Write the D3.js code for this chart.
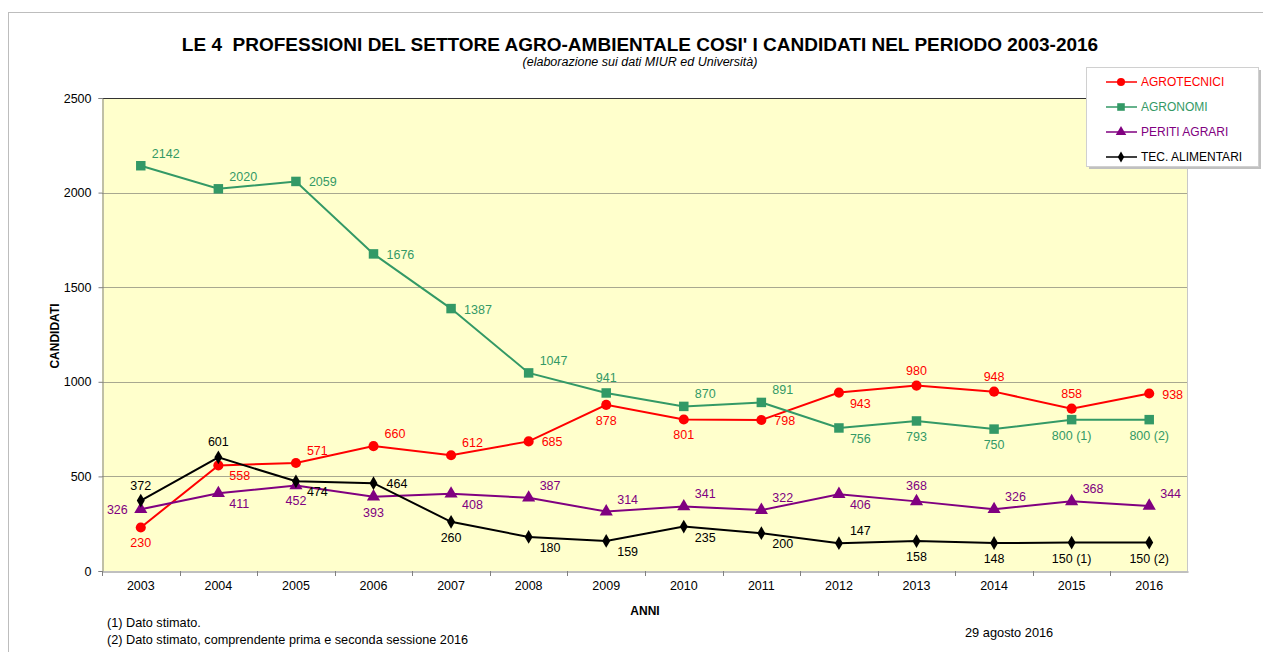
<!DOCTYPE html>
<html>
<head>
<meta charset="utf-8">
<script src="https://cdn.jsdelivr.net/npm/d3@7"></script>
<style>
  body { margin: 0; background: #fff; }
  text { font-family: "Liberation Sans", Arial, sans-serif; }
</style>
</head>
<body>
<script>
var W = 1263, H = 652;

// data
var anni = ['2003','2004','2005','2006','2007','2008','2009','2010','2011','2012','2013','2014','2015','2016'];
var agrotecnici = [230, 558, 571, 660, 612, 685, 878, 801, 798, 943, 980, 948, 858, 938];
var agronomi = [2142, 2020, 2059, 1676, 1387, 1047, 941, 870, 891, 756, 793, 750, 800, 800];
var peritiAgrari = [326, 411, 452, 393, 408, 387, 314, 341, 322, 406, 368, 326, 368, 344];
var tecAlimentari = [372, 601, 474, 464, 260, 180, 159, 235, 200, 147, 158, 148, 150, 150];
var note = ['', '', '', '', '', '', '', '', '', '', '', '', ' (1)', ' (2)'];
var noNote = anni.map(function(){ return ''; });
var yTicks = [0, 500, 1000, 1500, 2000, 2500];

// where each data label sits (a above, b below, r right, ra/rb right above/below, l left)
var posAgrotecnici = ['b','rb','ra','ra','ra','r','b','b','r','rb','a','a','a','r'];
var posAgronomi = ['ra','ra','r','r','r','ra','a','ra','ra','rb','b','b','b','b'];
var posPeriti = ['l','rb','b','b','rb','ra','ra','ra','ra','rb','a','ra','ra','ra'];
var posTec = ['a','a','rb','r','b','rb','rb','rb','rb','ra','b','b','b','b'];

var series = [
  {name: 'AGROTECNICI', values: agrotecnici, color: '#ff0000', marker: 'circle', pos: posAgrotecnici, notes: noNote},
  {name: 'AGRONOMI', values: agronomi, color: '#339966', marker: 'square', pos: posAgronomi, notes: note},
  {name: 'PERITI AGRARI', values: peritiAgrari, color: '#800080', marker: 'triangle', pos: posPeriti, notes: noNote},
  {name: 'TEC. ALIMENTARI', values: tecAlimentari, color: '#000000', marker: 'diamond', pos: posTec, notes: note}
];

var svg = d3.select('body').append('svg')
  .attr('width', W)
  .attr('height', H);

// outer frame
svg.append('rect')
  .attr('x', 8.5).attr('y', 12.5)
  .attr('width', W + 10).attr('height', H + 10)
  .attr('fill', 'none').attr('stroke', '#bdbdbd');

var pLeft = 102, pRight = 1188, pTop = 98, pBottom = 571;

var x = d3.scaleBand().domain(anni).range([pLeft, pRight]);
var y = d3.scaleLinear().domain([0, 2500]).range([pBottom, pTop]);

// plot area
svg.append('rect')
  .attr('x', pLeft).attr('y', pTop)
  .attr('width', pRight - pLeft).attr('height', pBottom - pTop)
  .attr('fill', '#ffffcc');

svg.selectAll('.grid')
  .data(yTicks.slice(1, -1))
  .enter().append('line')
  .attr('class', 'grid')
  .attr('x1', pLeft).attr('x2', pRight)
  .attr('y1', function(d){ return Math.round(y(d)) + 0.5; })
  .attr('y2', function(d){ return Math.round(y(d)) + 0.5; })
  .attr('stroke', '#a8a890');

// plot borders
svg.append('line').attr('x1', pLeft).attr('x2', pRight).attr('y1', pTop + 0.5).attr('y2', pTop + 0.5)
  .attr('stroke', '#333');
svg.append('line').attr('x1', pRight - 0.5).attr('x2', pRight - 0.5).attr('y1', pTop).attr('y2', pBottom)
  .attr('stroke', '#c8c8c8');

// y axis
var yAxis = d3.axisLeft(y).tickValues(yTicks).tickFormat(d3.format('d')).tickSize(4).tickPadding(7);
var gy = svg.append('g').attr('transform', 'translate(' + (pLeft + 0.5) + ',0)').call(yAxis);
gy.select('.domain').attr('stroke', '#808080');
gy.selectAll('.tick line').attr('stroke', '#808080');
gy.selectAll('.tick text').attr('font-size', 12.5).attr('fill', '#000')
  .attr('font-family', '"Liberation Sans", Arial, sans-serif');

// x axis
var xAxis = d3.axisBottom(x).tickSize(0).tickPadding(10);
var gx = svg.append('g').attr('transform', 'translate(0,' + (pBottom + 0.5) + ')').call(xAxis);
gx.select('.domain').attr('stroke', '#808080');
gx.selectAll('.tick text').attr('font-size', 12.5).attr('fill', '#000')
  .attr('font-family', '"Liberation Sans", Arial, sans-serif');
// tick marks between categories
svg.selectAll('.xtick')
  .data(anni)
  .enter().append('line')
  .attr('class', 'xtick')
  .attr('x1', function(d){ return Math.round(x(d)) + 0.5; })
  .attr('x2', function(d){ return Math.round(x(d)) + 0.5; })
  .attr('y1', pBottom).attr('y2', pBottom + 5)
  .attr('stroke', '#808080');

var cx = function(i){ return x(anni[i]) + x.bandwidth() / 2; };

var symbols = {
  circle: d3.symbol().type(d3.symbolCircle).size(80),
  square: d3.symbol().type(d3.symbolSquare).size(90),
  triangle: d3.symbol().type(d3.symbolTriangle).size(75),
  diamond: d3.symbol().type(d3.symbolDiamond).size(55)
};

var line = d3.line()
  .x(function(d, i){ return cx(i); })
  .y(function(d){ return y(d); });

var offsets = {
  a:  {dx: 0,  dy: -11, anchor: 'middle'},
  b:  {dx: 0,  dy: 20,  anchor: 'middle'},
  r:  {dx: 13, dy: 5,   anchor: 'start'},
  ra: {dx: 11, dy: -8,  anchor: 'start'},
  rb: {dx: 11, dy: 15,  anchor: 'start'},
  l:  {dx: -13, dy: 5,  anchor: 'end'}
};

series.forEach(function(s){
  var g = svg.append('g');
  g.append('path')
    .datum(s.values)
    .attr('d', line)
    .attr('fill', 'none')
    .attr('stroke', s.color)
    .attr('stroke-width', 2);
  g.selectAll('.m')
    .data(s.values)
    .enter().append('path')
    .attr('d', symbols[s.marker])
    .attr('transform', function(d, i){ return 'translate(' + cx(i) + ',' + y(d) + ')'; })
    .attr('fill', s.color);
  g.selectAll('.lbl')
    .data(s.values)
    .enter().append('text')
    .attr('x', function(d, i){ return cx(i) + offsets[s.pos[i]].dx; })
    .attr('y', function(d, i){ return y(d) + offsets[s.pos[i]].dy; })
    .attr('text-anchor', function(d, i){ return offsets[s.pos[i]].anchor; })
    .attr('font-size', 12.5)
    .attr('fill', s.color)
    .text(function(d, i){ return d + s.notes[i]; });
});

// titles
svg.append('text')
  .attr('x', 640).attr('y', 51)
  .attr('text-anchor', 'middle')
  .attr('font-size', 19).attr('font-weight', 'bold')
  .style('white-space', 'pre')
  .text("LE 4  PROFESSIONI DEL SETTORE AGRO-AMBIENTALE COSI' I CANDIDATI NEL PERIODO 2003-2016");
svg.append('text')
  .attr('x', 640).attr('y', 66)
  .attr('text-anchor', 'middle')
  .attr('font-size', 12.5).attr('font-style', 'italic')
  .text('(elaborazione sui dati MIUR ed Università)');

svg.append('text')
  .attr('transform', 'translate(59,336) rotate(-90)')
  .attr('text-anchor', 'middle')
  .attr('font-size', 12).attr('font-weight', 'bold')
  .text('CANDIDATI');

svg.append('text')
  .attr('x', 645).attr('y', 615)
  .attr('text-anchor', 'middle')
  .attr('font-size', 12).attr('font-weight', 'bold')
  .text('ANNI');

svg.append('text').attr('x', 107).attr('y', 627).attr('font-size', 12.7)
  .text('(1) Dato stimato.');
svg.append('text').attr('x', 107).attr('y', 644).attr('font-size', 12.7)
  .text('(2) Dato stimato, comprendente prima e seconda sessione 2016');
svg.append('text').attr('x', 965).attr('y', 637).attr('font-size', 12.8)
  .text('29 agosto 2016');

// legend
var lg = svg.append('g');
lg.append('rect').attr('x', 1089).attr('y', 70).attr('width', 172).attr('height', 99)
  .attr('fill', '#c0c0c0');
lg.append('rect').attr('x', 1086.5).attr('y', 67.5).attr('width', 172).attr('height', 99)
  .attr('fill', '#fff').attr('stroke', '#d0d0d0');
var items = lg.selectAll('.item')
  .data(series)
  .enter().append('g')
  .attr('transform', function(d, i){ return 'translate(1106,' + (82 + i * 25) + ')'; });
items.append('line').attr('x1', 0).attr('x2', 31)
  .attr('stroke', function(d){ return d.color; }).attr('stroke-width', 1.5);
items.append('path')
  .attr('d', function(d){ return symbols[d.marker](); })
  .attr('transform', 'translate(15,0) scale(0.8)')
  .attr('fill', function(d){ return d.color; });
items.append('text')
  .attr('x', 35).attr('y', 4)
  .attr('font-size', 12)
  .attr('fill', function(d){ return d.color; })
  .text(function(d){ return d.name; });
</script>
</body>
</html>
